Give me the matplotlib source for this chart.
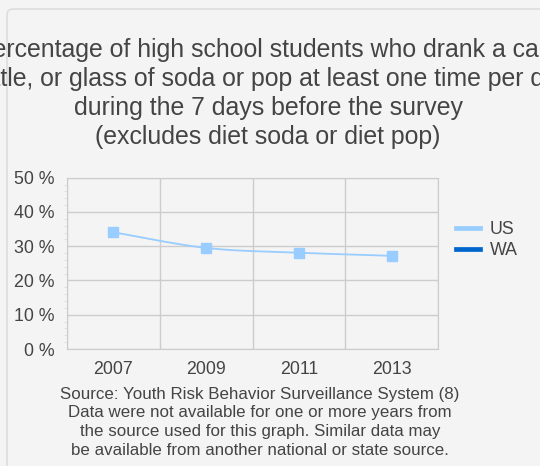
"""
Soda consumption among high school students, US vs WA
"""
import matplotlib
matplotlib.use('Agg')
import matplotlib.pyplot as plt
from matplotlib.patches import FancyBboxPatch
from matplotlib.lines import Line2D
import numpy as np

plt.rcParams['font.family'] = ['Liberation Sans', 'DejaVu Sans']

# Data
years = ['2007', '2009', '2011', '2013']
us_values = [34.1, 29.5, 28.1, 27.2]
wa_values = [np.nan, np.nan, np.nan, np.nan]
y_ticks = [0, 10, 20, 30, 40, 50]

title_lines = [
    'Percentage of high school students who drank a can,',
    'bottle, or glass of soda or pop at least one time per day',
    'during the 7 days before the survey',
    '(excludes diet soda or diet pop)',
]
source_lines = [
    'Source: Youth Risk Behavior Surveillance System (8)',
    'Data were not available for one or more years from',
    'the source used for this graph. Similar data may',
    'be available from another national or state source.',
]

bg = '#f4f4f4'
text_col = '#444444'
grid_col = '#cccccc'
us_col = '#99ccff'
wa_col = '#0066cc'

W, H = 540, 466
fig = plt.figure(figsize=(W / 100, H / 100), dpi=100)
fig.patch.set_facecolor(bg)

# Panel with rounded border
panel = FancyBboxPatch((7 / W, -0.1), 1.2, 1 - 9 / H + 0.1,
                       boxstyle='round,pad=0,rounding_size=0.012',
                       transform=fig.transFigure, facecolor=bg,
                       edgecolor='#dddddd', linewidth=1.2, zorder=-5)
fig.patches.append(panel)

# Title (clipped at the panel edge, as in the original)
for i, line in enumerate(title_lines):
    t = fig.text(268 / W, 1 - (50 + 29 * i) / H, line, ha='center', va='center',
                 fontsize=17.9, color=text_col)
    t.set_clip_path(panel)


def catmull(xp, yp, n=50):
    # smooth curve through the points, like the original chart
    pts = np.column_stack([xp, yp])
    pts = np.vstack([pts[0], pts, pts[-1]])
    out = []
    for k in range(1, len(pts) - 2):
        p0, p1, p2, p3 = pts[k - 1], pts[k], pts[k + 1], pts[k + 2]
        for t in np.linspace(0, 1, n, endpoint=False):
            t2, t3 = t * t, t * t * t
            out.append(0.5 * ((2 * p1) + (-p0 + p2) * t +
                              (2 * p0 - 5 * p1 + 4 * p2 - p3) * t2 +
                              (-p0 + 3 * p1 - 3 * p2 + p3) * t3))
    out.append(pts[-2])
    out = np.array(out)
    return out[:, 0], out[:, 1]


ax = fig.add_axes([66.7 / W, 1 - 349 / H, (438.3 - 66.7) / W, (349 - 177.7) / H])
ax.set_facecolor(bg)
x = np.arange(len(years))

cx, cy = catmull(x, us_values)
ax.plot(cx, cy, color=us_col, linewidth=1.3, zorder=3)
ax.plot(x, us_values, linestyle='none', marker='s', markersize=7.8,
        color=us_col, zorder=4)
ax.plot(x, wa_values, color=wa_col, linewidth=1.3)

ax.set_xlim(-0.5, len(years) - 0.5)
ax.set_ylim(0, 50)
ax.set_yticks(y_ticks)
ax.set_yticklabels(['%d %%' % v for v in y_ticks])
ax.set_yticks(np.arange(0, 51, 2), minor=True)
ax.set_xticks(x)
ax.set_xticklabels(years)
ax.set_xticks(np.arange(-0.5, len(years), 1), minor=True)
ax.grid(True, which='major', axis='y', color=grid_col, linewidth=1)
ax.grid(True, which='minor', axis='x', color=grid_col, linewidth=1)
ax.tick_params(axis='both', which='both', length=0, labelsize=12.8,
               colors=text_col)
ax.tick_params(axis='y', which='minor', length=2, color='#dddddd')
ax.tick_params(axis='x', pad=9)
ax.tick_params(axis='y', pad=9)
for s in ax.spines.values():
    s.set_color(grid_col)

handles = [Line2D([0], [0], color=us_col, linewidth=3.4),
           Line2D([0], [0], color=wa_col, linewidth=3.4)]
fig.legend(handles, ['US', 'WA'], loc='center left',
           bbox_to_anchor=(456 / W, 1 - 240 / H), frameon=False,
           fontsize=12.8, labelcolor=text_col, handlelength=1.35,
           handletextpad=0.55, labelspacing=0.2, borderaxespad=0,
           borderpad=0)

for i, line in enumerate(source_lines):
    fig.text(260 / W, 1 - (394 + 18.7 * i) / H, line, ha='center', va='center',
             fontsize=12.2, color=text_col)

fig.savefig('out.png', dpi=100, facecolor=bg)
